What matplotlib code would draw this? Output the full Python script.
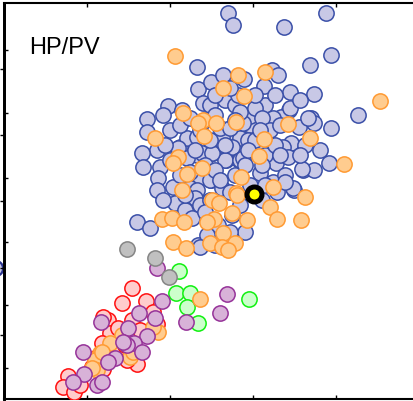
import matplotlib
matplotlib.use('Agg')
import matplotlib.pyplot as plt

plt.rcParams['font.family'] = ['Liberation Sans', 'DejaVu Sans']

# HP/PV scatter, groups
blue_x = [197, 198, 168, 147, 163, 182, 170, 147, 188, 157, 142, 180, 197, 143, 160, 158, 173, 157, 200, 203,
          228, 233, 326, 284, 331, 310, 211, 223, 244, 272, 278, 264, 290, 314, 358, 265, 249, 289, 281, 311,
          314, 299, 331, 226, 249, 291, 283, 276, 303, 314, 329, 226, 239, 213, 211, 294, 273, 210, 225, 235,
          187, 197, 222, 240, 250, 232, 175, 137, 150, 190, 197, 195, 210, 222, 225, 240, 235, 202, 212, 178,
          187, 218, 232, 198, 207, 308, 250, 273, 290, 258, 272, 243, 260, 277, 248, 243, 288, 302, 293,
          180, 190, 200, 210, 220, 230, 240, 255, 262, 270, 280, 195, 205, 215, 225, 245, 255, 265, 275, 285,
          190, 200, 210, 220, 230, 240, 250, 262, 265, 285, 165, 170, 180, 163, 185, 192, 205, 245, 238, 255,
          215, 230, 275, 300, 305, 320, 300, 200, 230, 215, 185, 205, 215, 260, 235, 248, 262, 280]
blue_y = [333, 311, 294, 281, 285, 290, 270, 268, 260, 250, 247, 253, 245, 233, 233, 222, 213, 210, 223, 297,
          387, 375, 387, 373, 345, 335, 318, 325, 321, 330, 325, 314, 308, 306, 285, 295, 285, 290, 283, 282,
          277, 273, 272, 265, 262, 257, 253, 237, 230, 230, 237, 240, 240, 247, 220, 210, 218, 295, 300, 295,
          262, 263, 263, 262, 275, 253, 197, 178, 172, 212, 210, 202, 220, 212, 240, 240, 225, 247, 247, 252,
          242, 175, 185, 155, 165, 282, 284, 282, 292, 250, 253, 277, 227, 208, 260, 242, 243, 231, 212,
          275, 282, 270, 260, 272, 272, 288, 292, 282, 270, 275, 250, 235, 230, 255, 235, 260, 245, 255, 225,
          228, 195, 200, 220, 208, 195, 215, 200, 215, 218, 255, 240, 225, 200, 190, 182, 188, 168, 305, 305,
          305, 312, 305, 300, 255, 250, 245, 153, 168, 155, 205, 280, 285, 270, 280, 250, 235, 245]

red_x = [132, 122, 146, 108, 110, 132, 157, 153, 137, 127, 68, 63, 74, 92, 103, 95, 102, 112, 118, 103,
         80, 140, 125]
red_y = [112, 97, 99, 80, 67, 80, 76, 88, 36, 40, 24, 13, 8, 33, 31, 42, 57, 48, 72, 83,
         15, 70, 55]

green_x = [179, 176, 190, 187, 198, 249]
green_y = [129, 107, 107, 93, 77, 101]

orange_x = [175, 183, 203, 155, 178, 173, 187, 202, 182, 238, 265, 223, 244, 380, 236, 216, 288, 310, 264, 259,
            241, 344, 273, 305, 236, 198, 204, 162, 172, 184, 173, 186, 212, 219, 237, 232, 214, 207, 247, 223,
            210, 222, 235, 228, 270, 277, 301, 200,
            100, 95, 97, 122, 158, 153, 130, 110, 133, 102, 92]
orange_y = [344, 287, 280, 262, 243, 237, 226, 232, 210, 325, 328, 312, 304, 299, 278, 277, 276, 262, 261, 244,
            223, 236, 213, 203, 207, 277, 264, 181, 182, 178, 158, 152, 200, 197, 205, 187, 181, 178, 180, 167,
            157, 153, 157, 150, 193, 181, 180, 101,
            47, 40, 30, 65, 68, 73, 43, 57, 48, 48, 32]

purple_x = [157, 162, 139, 155, 101, 128, 147, 134, 142, 115, 108, 83, 84, 73, 97, 102, 186, 227, 220, 127, 123]
purple_y = [132, 99, 87, 82, 78, 72, 64, 57, 48, 42, 38, 48, 26, 18, 15, 18, 78, 106, 87, 55, 58]

gray_x = [127, 155, 169]
gray_y = [151, 142, 123]

ref_x = [254]
ref_y = [206]

main_yticks = [32, 95, 158, 222, 287, 350]
main_xticks = [87, 170, 253, 336]
side_yticks = [65, 132, 199, 265, 331]

fig = plt.figure(figsize=(4.13, 4.01), dpi=100)

# neighbouring panel on the left, only its right edge shows
side = fig.add_axes([4 / 413 - 0.5, 2 / 401, 0.5, 396 / 401])
side.set_xlim(0, 100)
side.set_ylim(1, 397)
side.scatter([95.6], [132], s=121, facecolor='#c8c8e6', edgecolor='#2b3590', linewidth=1.6)
for sp in ['left', 'top', 'bottom']:
    side.spines[sp].set_visible(False)
side.spines['right'].set_linewidth(2)
side.set_xticks([])
side.yaxis.tick_right()
side.set_yticks(side_yticks)
side.tick_params(axis='y', direction='in', length=3, width=1, labelright=False)

ax = fig.add_axes([4 / 413, 2 / 401, 426 / 413, 396 / 401])
ax.set_xlim(4, 430)
ax.set_ylim(1, 397)

kw = dict(s=121, linewidth=1.1)
ax.scatter(blue_x, blue_y, facecolor='#c8c8e6', edgecolor='#3a4fa8', zorder=2, **kw)
ax.scatter(red_x, red_y, facecolor='#ffcccc', edgecolor='#ff1010', zorder=3, **kw)
ax.scatter(green_x, green_y, facecolor='#ccffcc', edgecolor='#10f010', zorder=3, **kw)
ax.scatter(orange_x, orange_y, facecolor='#ffcc8f', edgecolor='#ff9a33', zorder=4, **kw)
ax.scatter(purple_x, purple_y, facecolor='#d8b2d8', edgecolor='#963399', zorder=5, **kw)
ax.scatter(gray_x, gray_y, facecolor='#c0c0c0', edgecolor='#858585', zorder=6, **kw)
ax.scatter(ref_x, ref_y, s=117, facecolor='#ffff00', edgecolor='black', linewidth=3.6, zorder=7)

ax.text(25 / 426, 0.871, 'HP/PV', transform=ax.transAxes, fontsize=17, va='baseline', ha='left')

ax.set_xticks(main_xticks)
ax.set_yticks(main_yticks)
ax.tick_params(direction='in', length=3, width=1, top=True, bottom=True, left=True, right=False,
               labelbottom=False, labelleft=False)
ax.spines['left'].set_linewidth(2)
ax.spines['top'].set_linewidth(1.5)
ax.spines['bottom'].set_linewidth(1.5)
ax.patch.set_alpha(0)

fig.savefig('out.png', dpi=100)
